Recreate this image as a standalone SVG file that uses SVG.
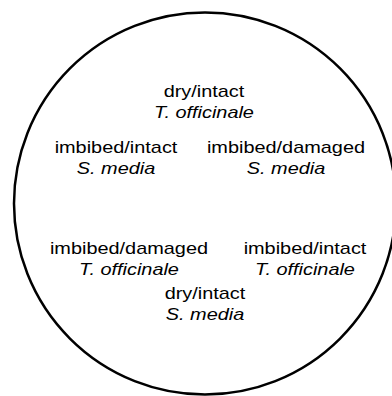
<svg xmlns="http://www.w3.org/2000/svg" width="392" height="396" viewBox="0 0 392 396">
<style>
text{font-family:"Liberation Sans",Arial,sans-serif;font-size:17px;fill:#000;text-anchor:middle}
.sp{font-style:italic}
</style>
<rect width="392" height="396" fill="#fff"/>
<circle id="boundary" cx="205" cy="203.5" r="191" fill="none" stroke="#000" stroke-width="2.5"/>
<g id="dry-intact-T" transform="translate(204 0) scale(1.17 1)"><text x="0" y="97">dry/intact</text><text class="sp" x="0" y="118">T. officinale</text></g>
<g id="imbibed-intact-S" transform="translate(116 0) scale(1.17 1)"><text x="0" y="153">imbibed/intact</text><text class="sp" x="0" y="174">S. media</text></g>
<g id="imbibed-damaged-S" transform="translate(286 0) scale(1.17 1)"><text x="0" y="153">imbibed/damaged</text><text class="sp" x="0" y="174">S. media</text></g>
<g id="imbibed-damaged-T" transform="translate(129 0) scale(1.17 1)"><text x="0" y="254">imbibed/damaged</text><text class="sp" x="0" y="275">T. officinale</text></g>
<g id="imbibed-intact-T" transform="translate(305 0) scale(1.17 1)"><text x="0" y="254">imbibed/intact</text><text class="sp" x="0" y="275">T. officinale</text></g>
<g id="dry-intact-S" transform="translate(205 0) scale(1.17 1)"><text x="0" y="299">dry/intact</text><text class="sp" x="0" y="320">S. media</text></g>
<g id="connectors"/>
</svg>
